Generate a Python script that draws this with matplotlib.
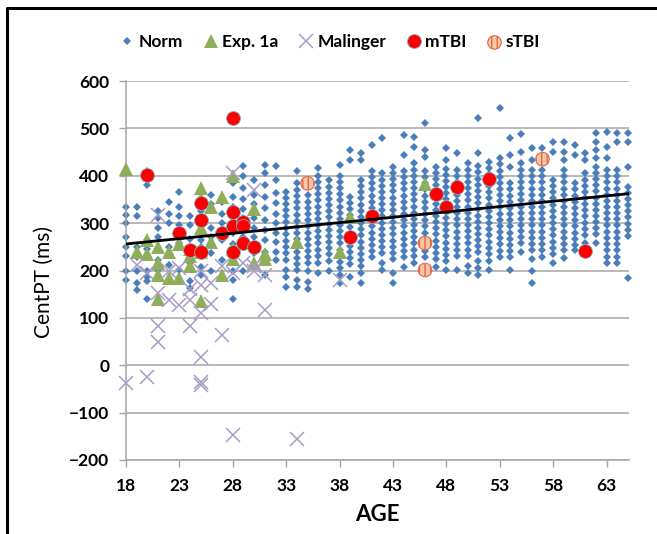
"""
CentPT vs AGE scatter: normative sample with patient / simulated groups overlaid.
"""
import numpy as np
import matplotlib
matplotlib.use("Agg")
import matplotlib.pyplot as plt
from matplotlib.lines import Line2D

plt.rcParams['font.family'] = ['Lato', 'DejaVu Sans']

# normative sample, CentPT (ms) per age (years)
norm_by_age = {
    18: [335, 317, 300, 270, 250, 230, 200, 180],
    19: [335, 315, 250, 228, 200, 173, 159],
    20: [410, 395, 380, 265, 246, 230, 198, 187, 177, 139],
    21: [325, 310, 290, 270, 222, 201],
    22: [345, 320, 300, 250, 232, 212],
    23: [365, 335, 315, 295, 272, 258, 202],
    24: [315, 295, 267, 243, 215, 177, 163],
    25: [325, 310, 295, 280, 265, 250, 208, 190],
    26: [360, 340, 290, 270, 236, 200],
    27: [345, 320, 300, 280, 265, 222],
    28: [385, 355, 335, 310, 280, 255, 200, 180, 139],
    29: [420, 400, 375, 350, 330, 310, 285, 270, 250, 200],
    30: [390, 360, 340, 310, 290, 270, 236],
    31: [423, 405, 381, 356, 331, 307, 285, 265, 240, 190],
    32: [420, 392, 364, 343, 320, 300, 280, 260, 240, 222],
    33: [365, 352, 340, 327, 315, 302, 290, 277, 262, 250, 237, 222, 201, 187, 166],
    34: [410, 384, 370, 357, 344, 331, 318, 305, 292, 279, 266, 253, 240, 227, 214, 201, 180, 165],
    35: [360, 345, 332, 319, 306, 293, 280, 267, 254, 241, 228, 215, 200, 175, 160],
    36: [416, 400, 387, 374, 361, 348, 335, 322, 309, 296, 283, 270, 257, 244, 230, 215, 195],
    37: [390, 377, 364, 351, 338, 325, 312, 299, 286, 273, 260, 247, 234, 220, 200],
    38: [423, 400, 387, 374, 361, 348, 335, 322, 309, 296, 283, 270, 257, 244, 231, 218, 205, 190, 173],
    39: [455, 433, 356, 343, 330, 317, 304, 291, 278, 265, 252, 239, 226, 213, 187],
    40: [447, 433, 391, 378, 365, 352, 339, 326, 313, 300, 287, 274, 261, 248, 235, 222, 209, 195, 173],
    41: [465, 410, 397, 384, 371, 358, 345, 332, 319, 306, 293, 280, 267, 254, 241, 229],
    42: [479, 405, 392, 379, 366, 353, 340, 327, 314, 301, 288, 275, 262, 249, 236, 215, 201],
    43: [419, 406, 393, 380, 367, 354, 341, 328, 315, 302, 289, 276, 263, 250, 237, 224, 195, 173],
    44: [486, 444, 410, 397, 384, 371, 358, 345, 332, 319, 306, 293, 280, 267, 254, 241, 228, 208],
    45: [482, 461, 426, 413, 400, 387, 374, 361, 348, 335, 322, 309, 296, 283, 270, 257, 244, 231, 215],
    46: [511, 455, 440, 410, 397, 384, 371, 358, 345, 332, 319, 306, 293, 280, 267, 254, 241, 228, 201],
    47: [419, 406, 393, 380, 367, 354, 341, 328, 315, 302, 289, 276, 263, 250, 237, 224, 208],
    48: [458, 434, 415, 402, 389, 376, 363, 350, 337, 324, 311, 298, 285, 272, 259, 246, 233, 220, 201],
    49: [447, 412, 399, 386, 373, 360, 347, 334, 321, 308, 295, 282, 269, 256, 243, 230, 201],
    50: [426, 413, 400, 387, 374, 361, 348, 335, 322, 309, 296, 283, 270, 257, 244, 231, 210, 194],
    51: [521, 447, 420, 407, 394, 381, 368, 355, 342, 329, 316, 303, 290, 277, 264, 251, 238, 220, 205, 191],
    52: [430, 417, 404, 391, 378, 365, 352, 339, 326, 313, 300, 287, 274, 261, 248, 235, 220, 201],
    53: [544, 437, 424, 411, 398, 385, 372, 359, 346, 333, 320, 307, 294, 281, 268, 255, 242, 229],
    54: [479, 444, 419, 384, 371, 358, 345, 332, 319, 306, 293, 280, 267, 254, 241, 228, 201],
    55: [488, 451, 426, 413, 400, 387, 374, 361, 348, 335, 322, 309, 296, 283, 270, 257, 240],
    56: [458, 433, 412, 399, 386, 373, 360, 347, 334, 321, 308, 295, 282, 269, 256, 243, 225, 200, 173],
    57: [458, 412, 399, 386, 373, 360, 347, 334, 321, 308, 295, 282, 269, 256, 243, 229],
    58: [472, 451, 391, 378, 365, 352, 339, 326, 313, 300, 287, 274, 261, 248, 235, 215],
    59: [472, 451, 433, 412, 399, 386, 373, 360, 347, 334, 321, 308, 295, 282, 269, 256, 243, 226],
    60: [465, 444, 384, 371, 358, 345, 332, 319, 306, 293, 280, 267, 254, 243],
    61: [447, 433, 405, 392, 379, 366, 353, 340, 327, 314, 301, 288, 275, 258],
    62: [490, 472, 454, 437, 419, 406, 393, 380, 367, 354, 341, 328, 315, 302, 289, 276, 258],
    63: [493, 461, 437, 412, 399, 386, 373, 360, 347, 334, 321, 308, 295, 282, 269, 256, 243, 228, 215],
    64: [490, 472, 412, 399, 386, 373, 360, 347, 334, 321, 308, 295, 282, 269, 256, 243, 228, 215],
    65: [490, 472, 419, 377, 364, 351, 338, 325, 312, 299, 286, 272, 184],
}

exp_age = [18, 19, 20, 20, 21, 21, 21, 21, 22, 22, 23, 23, 24, 24, 24, 25, 25, 25, 25, 25,
           26, 26, 27, 27, 28, 28, 28, 30, 30, 31, 31, 34, 38, 39, 46]
exp_ms = [415, 240, 265, 235, 250, 215, 190, 140, 240, 185, 255, 185, 230, 210, 245, 375, 350, 290, 240, 135,
          335, 260, 355, 190, 400, 245, 225, 330, 215, 235, 225, 260, 240, 312, 383]

mal_age = [18, 19, 20, 20, 21, 21, 21, 21, 22, 22, 23, 23, 24, 24, 24, 25, 25, 25, 25, 25, 25,
           26, 26, 27, 27, 28, 28, 28, 29, 30, 30, 30, 31, 31, 34, 38]
mal_ms = [-38, 212, 194, -25, 317, 152, 82, 50, 138, 200, 205, 127, 138, 83, 160, 110, 18, -35, -42, 170, 200,
          173, 130, 64, 210, 405, -148, 195, 215, 370, 210, 200, 117, 190, -155, 180]

mtbi_age = [20, 23, 24, 25, 25, 25, 27, 28, 28, 28, 28, 29, 29, 29, 30, 39, 41, 47, 48, 49, 52, 61]
mtbi_ms = [402, 279, 243, 238, 342, 307, 279, 522, 324, 293, 240, 303, 293, 258, 250, 270, 315, 362, 335, 376, 393, 241]

stbi_age = [35, 46, 46, 57]
stbi_ms = [384, 258, 201, 435]

# Excel linear trendline of the Norm series
trend_age = [18, 65]
trend_ms = [256, 362]

norm_age = np.concatenate([[a] * len(v) for a, v in norm_by_age.items()])
norm_ms = np.concatenate([v for v in norm_by_age.values()])

W, H = 657, 534
fig = plt.figure(figsize=(W / 100, H / 100), dpi=100)
ax = fig.add_axes([126 / W, 1 - 460 / H, (629 - 126) / W, (460 - 81) / H])

grid_c = '#A6A6A6'
blue, green, lilac = '#4A7EBB', '#8FAE5A', '#A99BC8'
ax.set_axisbelow(True)
ax.yaxis.grid(True, color=grid_c, lw=1.1)

ax.plot(norm_age, norm_ms, 'D', ms=4.2, color=blue, mew=0, clip_on=False, zorder=2)
ax.plot(exp_age, exp_ms, '^', ms=10, color=green, mew=0, clip_on=False, zorder=3)
ax.plot(mal_age, mal_ms, 'x', ms=10, color=lilac, mew=1.1, clip_on=False, zorder=3)
ax.plot(mtbi_age, mtbi_ms, 'o', ms=10, color='#FF0000', mec='#7FB2C4', mew=0.6, clip_on=False, zorder=4)
stbi = ax.scatter(stbi_age, stbi_ms, s=95, facecolor='#F5C7A6', edgecolor='#E2684A', hatch='|||',
                  lw=0.8, clip_on=False, zorder=4)
ax.plot(trend_age, trend_ms, color='black', lw=2, zorder=5)

ax.set_xlim(18, 65.1)
ax.set_ylim(-200, 600)
ax.set_xticks(range(18, 64, 5))
ax.set_yticks(range(-200, 601, 100))

for s in ['top', 'right']:
    ax.spines[s].set_visible(False)
for s in ['left', 'bottom']:
    ax.spines[s].set_color(grid_c)
    ax.spines[s].set_linewidth(1.1)

ax.tick_params(axis='both', direction='out', length=5, width=1, color=grid_c, labelsize=12.5)
ax.tick_params(axis='x', pad=8)
ax.tick_params(axis='y', pad=7)
for lab in ax.get_xticklabels() + ax.get_yticklabels():
    lab.set_fontweight('bold')

ax.set_xlabel('AGE', fontsize=16, fontweight='bold')
ax.xaxis.set_label_coords(0.5, -(504 - 460) / (460 - 81))
ax.set_ylabel('CentPT (ms)', fontsize=15)
ax.yaxis.set_label_coords((54 - 126) / (629 - 126), 0.47)

handles = [
    Line2D([], [], ls='', marker='D', ms=4.2, color=blue, mew=0),
    Line2D([], [], ls='', marker='^', ms=10, color=green, mew=0),
    Line2D([], [], ls='', marker='x', ms=10, color=lilac, mew=1.1),
    Line2D([], [], ls='', marker='o', ms=10, color='#FF0000', mec='#7FB2C4', mew=0.6),
    stbi,
]
labels = ['Norm', 'Exp. 1a', 'Malinger', 'mTBI', 'sTBI']
fig.legend(handles, labels, loc='center', bbox_to_anchor=(0.5, 1 - 42 / H), ncol=5,
           frameon=False, handletextpad=0.05, columnspacing=1.0, handlelength=1.2,
           prop={'weight': 'bold', 'size': 12.5})

# black frame on left and top of the figure
fig.add_artist(Line2D([7 / W, 7 / W, 1], [0, 1 - 8 / H, 1 - 8 / H], color='black', lw=2.2,
                      transform=fig.transFigure))

fig.savefig('out.png', dpi=100)
